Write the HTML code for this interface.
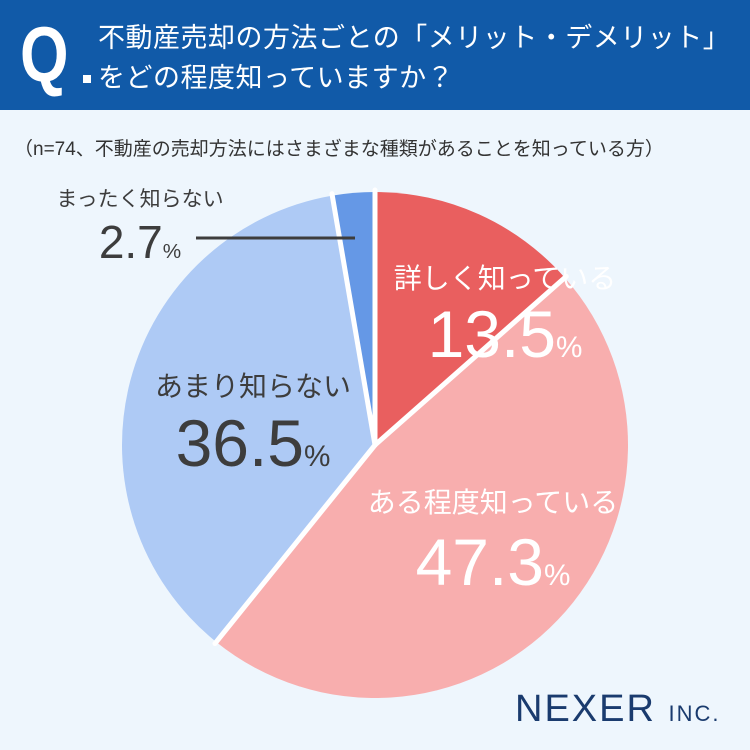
<!DOCTYPE html>
<html><head><meta charset="utf-8"><style>
body{margin:0;width:750px;height:750px;overflow:hidden;background:#eef6fd;font-family:"Liberation Sans","Noto Sans CJK JP",sans-serif;position:relative}
.abs{position:absolute;white-space:nowrap}
</style></head><body>
<div class="abs" style="left:0;top:0;width:750px;height:110px;background:#115aa8"></div>
<div class="abs" style="left:20px;top:14px;color:#fff;font-size:78px;font-weight:bold;line-height:80px;transform:scaleX(0.8);transform-origin:left">Q</div>
<div class="abs" style="left:83px;top:75px;width:8px;height:8px;background:#fff"></div>
<div class="abs" style="left:98px;top:18px;color:#fff;font-size:27px;line-height:40px;letter-spacing:0.5px">不動産売却の方法ごとの「メリット・デメリット」<br>をどの程度知っていますか？</div>
<div class="abs" style="left:14px;top:134px;color:#333;font-size:19px">（n=74、不動産の売却方法にはさまざまな種類があることを知っている方）</div>
<svg class="abs" style="left:0;top:0" width="750" height="750" id="chart"></svg>
<div class="abs" style="left:515px;top:688px;color:#1a3b6e;font-size:38px;letter-spacing:2px">NEXER <span style="font-size:22px">INC.</span></div>
<script>
const categories=["詳しく知っている","ある程度知っている","あまり知らない","まったく知らない"];
const values=[13.5,47.3,36.5,2.7];
const colors=["#e95f5f","#f8aeae","#aecaf5","#6598e6"];
const svg=document.getElementById('chart');
const cx=375,cy=445,r=253;
const total=values.reduce((a,b)=>a+b,0);
function pt(a,rr){return [cx+rr*Math.sin(a),cy-rr*Math.cos(a)];}
let ang=0;const ns="http://www.w3.org/2000/svg";
const bounds=[];
values.forEach((v,i)=>{
 const a0=ang,a1=ang+v/total*2*Math.PI;ang=a1;bounds.push(a0);
 const p0=pt(a0,r),p1=pt(a1,r);
 const p=document.createElementNS(ns,'path');
 p.setAttribute('d',`M${cx},${cy}L${p0[0]},${p0[1]}A${r},${r} 0 ${a1-a0>Math.PI?1:0} 1 ${p1[0]},${p1[1]}Z`);
 p.setAttribute('fill',colors[i]);
 
 
 svg.appendChild(p);
});
bounds.forEach(a=>{
 const e=pt(a,r+2);
 const l=document.createElementNS(ns,'line');
 l.setAttribute('x1',cx);l.setAttribute('y1',cy);l.setAttribute('x2',e[0]);l.setAttribute('y2',e[1]);
 l.setAttribute('stroke','#fff');l.setAttribute('stroke-width','5');l.setAttribute('stroke-linecap','round');
 
 
 svg.appendChild(l);
});
const labels=[
 {x:505,y:288,ly:357,fs:28,vs:66,c:"#fff"},
 {x:493,y:512,ly:585,fs:28,vs:66,c:"#fff"},
 {x:253,y:396,ly:466,fs:28,vs:66,c:"#3d3d3d"},
 {x:140,y:206,ly:258,fs:21,vs:46,c:"#3d3d3d"}];
labels.forEach((L,i)=>{
 const t=document.createElementNS(ns,'text');
 t.setAttribute('x',L.x);t.setAttribute('y',L.y);t.setAttribute('text-anchor','middle');
 t.setAttribute('font-size',L.fs);t.setAttribute('fill',L.c);t.textContent=categories[i];
 
 
 svg.appendChild(t);
 const v=document.createElementNS(ns,'text');
 v.setAttribute('x',L.x);v.setAttribute('y',L.ly);v.setAttribute('text-anchor','middle');
 v.setAttribute('font-size',L.vs);v.setAttribute('fill',L.c);
 v.innerHTML=values[i].toFixed(1)+'<tspan font-size="'+(L.vs*0.45)+'">%</tspan>';
 
 
 svg.appendChild(v);
});
const ln=document.createElementNS(ns,'line');
ln.setAttribute('x1',196);ln.setAttribute('y1',238);ln.setAttribute('x2',355);ln.setAttribute('y2',238);
ln.setAttribute('stroke','#3d3d3d');ln.setAttribute('stroke-width','3');


svg.appendChild(ln);
</script>
</body></html>
